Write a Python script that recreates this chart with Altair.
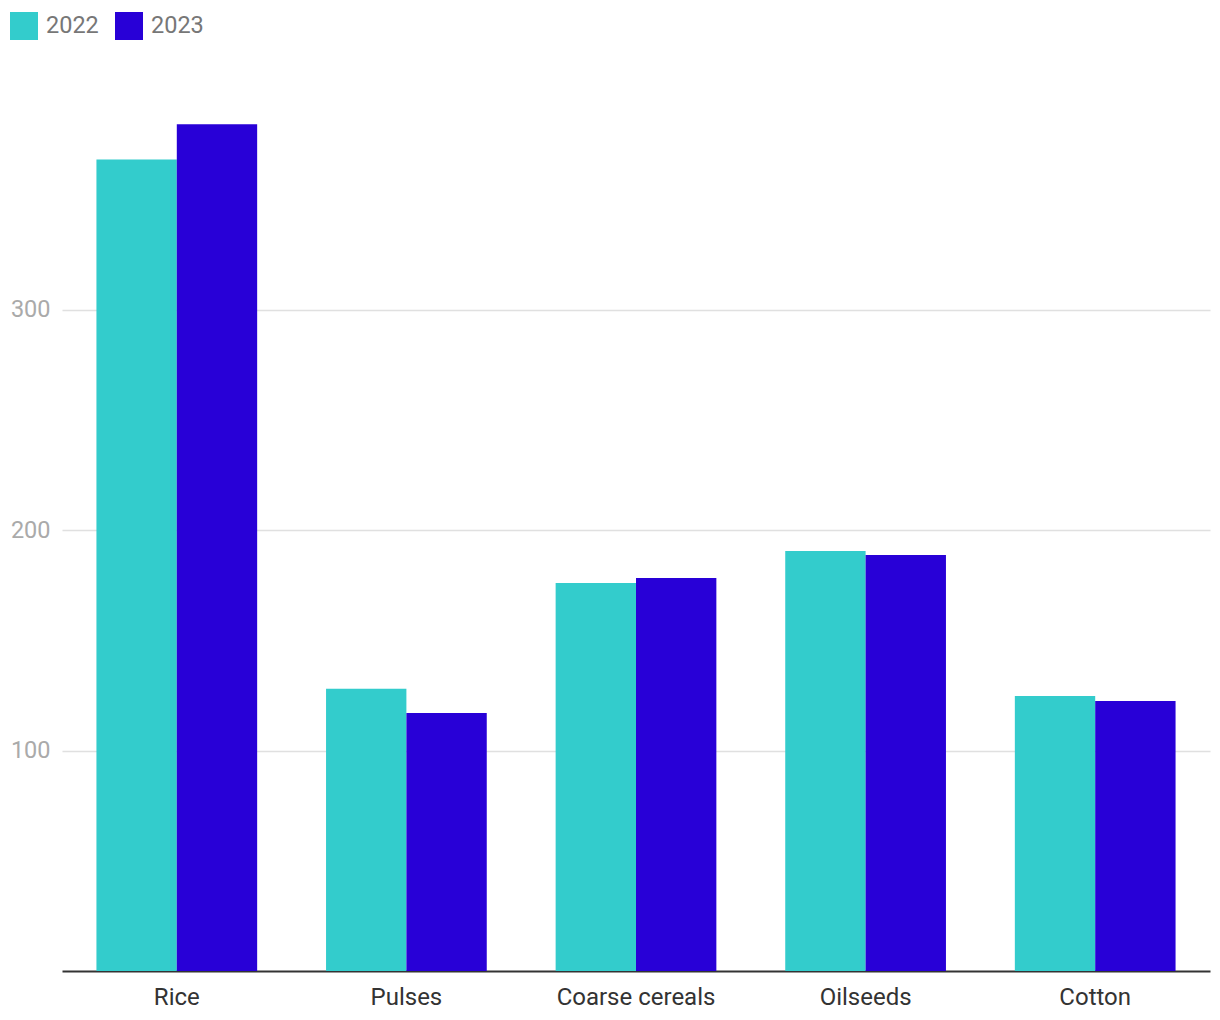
import altair as alt
import pandas as pd

crops = ["Rice", "Pulses", "Coarse cereals", "Oilseeds", "Cotton"]
years = ["2022", "2023"]
v2022 = [368, 128, 176, 190.5, 124.7]
v2023 = [384, 117, 178.2, 188.7, 122.4]

rows = []
for c, a, b in zip(crops, v2022, v2023):
    rows.append({"crop": c, "year": "2022", "value": a})
    rows.append({"crop": c, "year": "2023", "value": b})
df = pd.DataFrame(rows)

chart = alt.Chart(df).mark_bar().encode(
    x=alt.X("crop:N", sort=crops, title=None,
            scale=alt.Scale(paddingInner=0.3, paddingOuter=0.15),
            axis=alt.Axis(labelAngle=0, labelFontSize=24, labelColor="#333333",
                          labelFont="Roboto", domainColor="#333333", domainWidth=2,
                          ticks=False, labelPadding=14)),
    xOffset=alt.XOffset("year:N", sort=years),
    y=alt.Y("value:Q", title=None,
            scale=alt.Scale(domain=[0, 400], nice=False),
            axis=alt.Axis(values=[100, 200, 300], labelFontSize=23.5, labelColor="#aaaaaa",
                          labelFont="Roboto", domain=False, ticks=False, labelPadding=12,
                          gridColor="#e0e0e0", gridWidth=1.5)),
    color=alt.Color("year:N", sort=years,
                    scale=alt.Scale(domain=years, range=["#33cccc", "#2800d7"]),
                    legend=alt.Legend(title=None, orient="none", direction="horizontal",
                                      legendX=-52, legendY=-77,
                                      symbolType="square", symbolSize=784,
                                      symbolStrokeWidth=0, labelFontSize=23.5,
                                      labelFont="Roboto", labelColor="#777777",
                                      columnPadding=16, labelOffset=8)),
).properties(
    width=1148, height=882,
    padding={"left": 10, "top": 12, "right": 10, "bottom": 10},
).configure_view(stroke=None)

chart.save("out.html", embed_options={"renderer": "svg", "actions": False})
